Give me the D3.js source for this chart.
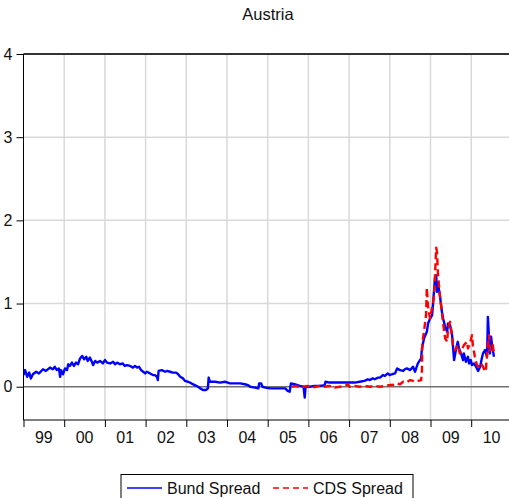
<!DOCTYPE html>
<html>
<head>
<meta charset="utf-8">
<script src="https://cdn.jsdelivr.net/npm/d3@7/dist/d3.min.js"></script>
<style>
html,body{margin:0;padding:0;background:#fff;}
svg{display:block;font-family:"Liberation Sans",Arial,sans-serif;}
</style>
</head>
<body>
<svg id="chart" width="509" height="498"></svg>
<script>
// ---- data (decimal years) ----
const title = "Austria";
const yearLabels = ["99","00","01","02","03","04","05","06","07","08","09","10"];
const yTicks = [0, 1, 2, 3, 4];
const seriesNames = ["Bund Spread", "CDS Spread"];

const bundDates = [1999.00,1999.04,1999.09,1999.14,1999.18,1999.23,1999.31,1999.38,1999.48,1999.55,1999.65,1999.72,1999.77,1999.82,1999.87,1999.90,1999.92,1999.97,
2000.02,2000.07,2000.10,2000.14,2000.19,2000.24,2000.29,2000.34,2000.39,2000.44,2000.49,2000.54,2000.58,2000.63,2000.68,2000.71,2000.76,2000.81,2000.88,2000.95,
2001.00,2001.05,2001.13,2001.20,2001.25,2001.30,2001.37,2001.44,2001.49,2001.54,2001.62,2001.69,2001.74,2001.79,2001.84,2001.89,2001.94,2001.99,
2002.03,2002.11,2002.18,2002.23,2002.28,2002.30,2002.32,2002.40,2002.48,2002.53,2002.60,2002.67,2002.75,2002.80,2002.85,2002.92,2002.97,
2003.04,2003.09,2003.16,2003.21,2003.29,2003.34,2003.41,2003.48,2003.53,2003.55,2003.58,2003.71,2003.83,2003.95,
2004.02,2004.07,2004.20,2004.32,2004.44,2004.52,2004.57,2004.69,2004.77,2004.79,2004.84,2004.87,2004.94,
2005.06,2005.26,2005.43,2005.49,2005.54,2005.57,2005.66,2005.79,2005.88,2005.91,2005.93,
2006.03,2006.15,2006.28,2006.40,2006.42,2006.52,2006.77,
2007.01,2007.14,2007.26,2007.38,2007.46,2007.51,2007.58,2007.63,2007.71,2007.76,2007.83,2007.88,2007.95,
2008.00,2008.05,2008.13,2008.18,2008.25,2008.33,2008.37,2008.42,2008.50,2008.57,
2008.62,2008.69,2008.77,2008.79,2008.84,2008.91,2008.94,2008.99,2009.04,2009.06,2009.11,2009.14,2009.16,2009.18,2009.23,2009.28,2009.31,2009.36,2009.41,2009.43,
2009.48,2009.53,2009.55,2009.58,2009.63,2009.67,2009.70,2009.75,2009.80,2009.82,2009.87,2009.92,2009.95,2009.99,
2010.02,2010.07,2010.12,2010.17,2010.22,2010.26,2010.29,2010.34,2010.39,2010.41,2010.44,2010.46,2010.49,2010.51,2010.56];
const bundValues = [0.14,0.20,0.12,0.17,0.10,0.15,0.18,0.16,0.21,0.19,0.23,0.21,0.24,0.20,0.22,0.12,0.20,0.15,
0.22,0.20,0.27,0.25,0.29,0.25,0.29,0.27,0.34,0.37,0.33,0.36,0.31,0.35,0.30,0.26,0.31,0.29,0.31,0.28,
0.32,0.29,0.28,0.30,0.27,0.29,0.27,0.28,0.25,0.26,0.25,0.23,0.25,0.23,0.24,0.20,0.18,0.16,
0.18,0.16,0.14,0.14,0.12,0.08,0.19,0.20,0.18,0.19,0.18,0.17,0.17,0.15,0.12,0.10,0.07,
0.06,0.05,0.03,0.02,0.00,-0.02,-0.04,-0.04,-0.02,0.11,0.06,0.06,0.05,0.06,
0.05,0.04,0.04,0.04,0.03,0.02,0.00,-0.01,-0.02,0.04,0.04,0.00,-0.01,
-0.02,-0.02,-0.02,-0.05,-0.06,0.04,0.03,0.01,0.00,-0.13,0.00,
0.00,0.01,0.01,0.02,0.06,0.05,0.05,
0.05,0.05,0.06,0.07,0.09,0.08,0.10,0.09,0.11,0.11,0.14,0.13,0.16,
0.14,0.15,0.16,0.22,0.20,0.19,0.21,0.22,0.20,0.24,
0.18,0.28,0.34,0.46,0.58,0.66,0.76,0.82,0.86,0.98,1.31,1.34,1.14,1.25,1.10,0.90,0.82,0.72,0.66,0.76,
0.74,0.62,0.50,0.32,0.46,0.54,0.46,0.40,0.32,0.40,0.30,0.36,0.28,0.32,
0.26,0.28,0.24,0.19,0.24,0.34,0.40,0.44,0.36,0.84,0.58,0.40,0.60,0.50,0.36];

const cdsDates = [2005.60,2005.70,2005.79,2005.88,2005.98,2006.09,2006.18,2006.28,2006.40,2006.52,2006.65,2006.77,2006.90,2006.97,
2007.01,2007.14,2007.26,2007.38,2007.51,2007.63,2007.76,2007.88,
2008.00,2008.07,2008.15,2008.25,2008.33,2008.40,2008.50,2008.57,
2008.62,2008.69,2008.77,2008.79,2008.80,2008.84,2008.89,2008.91,2008.94,2008.99,2009.04,2009.09,2009.14,2009.16,2009.18,2009.23,2009.28,2009.31,2009.36,2009.41,2009.43,
2009.48,2009.53,2009.55,2009.60,2009.67,2009.72,2009.77,2009.82,2009.90,2009.92,2009.97,
2010.02,2010.04,2010.09,2010.14,2010.19,2010.24,2010.29,2010.34,2010.36,2010.41,2010.44,2010.46,2010.51,2010.53,2010.56];
const cdsValues = [0.00,0.01,-0.01,0.00,0.01,-0.01,0.00,0.01,0.00,0.01,-0.01,0.00,0.01,0.03,
0.00,0.01,0.00,0.01,0.00,0.01,0.00,0.01,
0.02,0.02,0.04,0.03,0.06,0.05,0.08,0.07,
0.06,0.07,0.08,0.20,0.54,0.66,0.86,1.19,0.95,0.82,0.95,1.10,1.67,1.62,1.38,1.10,0.90,0.76,0.58,0.54,0.70,
0.78,0.62,0.50,0.44,0.50,0.40,0.44,0.50,0.54,0.46,0.52,
0.62,0.50,0.36,0.26,0.24,0.28,0.24,0.18,0.21,0.50,0.62,0.44,0.46,0.50,0.40];

// ---- layout ----
const svg = d3.select("#chart");
const W = 509, H = 498;
const pL = 23.5, pR = 511.9, pT = 54, pB = 420;

const x = d3.scaleLinear().domain([1999, 2011]).range([pL, pR]);
const y = d3.scaleLinear().domain([-0.4, 4]).range([pB, pT]);

svg.append("defs").append("clipPath").attr("id","clip")
  .append("rect").attr("x",pL).attr("y",pT).attr("width",pR-pL).attr("height",pB-pT);

// grid
const years = d3.range(2000, 2011);
svg.append("g").selectAll("line").data(years).join("line")
  .attr("x1", d=>x(d)).attr("x2", d=>x(d)).attr("y1", pT).attr("y2", pB)
  .attr("stroke","#d9d9d9").attr("stroke-width",1.5);
svg.append("g").selectAll("line").data([1,2,3]).join("line")
  .attr("x1", pL).attr("x2", W).attr("y1", d=>y(d)).attr("y2", d=>y(d))
  .attr("stroke","#d9d9d9").attr("stroke-width",1.5);

// zero line
svg.append("line").attr("x1",pL).attr("x2",W).attr("y1",y(0)).attr("y2",y(0))
  .attr("stroke","#707070").attr("stroke-width",1.6);

// series
const line = d3.line().x(d=>x(d[0])).y(d=>y(d[1]));
const bund = bundDates.map((d,i)=>[d,bundValues[i]]);
const cds = cdsDates.map((d,i)=>[d,cdsValues[i]]);

const g = svg.append("g").attr("clip-path","url(#clip)");
g.append("path").datum(bund).attr("d",line).attr("fill","none")
  .attr("stroke","#0000ff").attr("stroke-width",2.4).attr("stroke-linejoin","round");
g.append("path").datum(cds).attr("d",line).attr("fill","none")
  .attr("stroke","#ff0000").attr("stroke-width",2.4).attr("stroke-dasharray","7,4").attr("stroke-linejoin","round");

// top border
svg.append("line").attr("x1",pL).attr("x2",W).attr("y1",pT).attr("y2",pT)
  .attr("stroke","#333").attr("stroke-width",2.2);

// y axis
const yAxis = d3.axisLeft(y).tickValues(yTicks).tickSize(7).tickPadding(4).tickFormat(d3.format("d"));
const ya = svg.append("g").attr("transform",`translate(${pL},0)`).call(yAxis);
ya.select(".domain").attr("stroke","#000").attr("d",`M0,${pT}V${pB}`);
ya.selectAll("text").attr("font-size",16).attr("fill","#111").attr("font-family","Liberation Sans, Arial, sans-serif");

// x axis
const xAxis = d3.axisBottom(x).tickValues(d3.range(1999, 2012)).tickSize(7).tickFormat("");
const xa = svg.append("g").attr("transform",`translate(0,${pB})`).call(xAxis);
xa.select(".domain").attr("stroke","#000").attr("d",`M${pL},0H${W}`);
svg.append("g").selectAll("text").data(yearLabels).join("text")
  .attr("x",(d,i)=>x(1999.5+i)).attr("y",443).attr("text-anchor","middle")
  .attr("font-size",16).attr("fill","#111").text(d=>d);

// title
svg.append("text").attr("x",268).attr("y",20).attr("text-anchor","middle")
  .attr("font-size",16.5).attr("fill","#111").text(title);

// legend
const lg = svg.append("g");
lg.append("rect").attr("x",121).attr("y",474.5).attr("width",292).attr("height",30)
  .attr("fill","#fff").attr("stroke","#000").attr("stroke-width",1);
lg.append("line").attr("x1",127).attr("x2",162).attr("y1",488).attr("y2",488)
  .attr("stroke","#0000ff").attr("stroke-width",1.5);
lg.append("text").attr("x",167).attr("y",494).attr("font-size",16).attr("fill","#111").text(seriesNames[0]);
lg.append("line").attr("x1",273).attr("x2",308).attr("y1",488).attr("y2",488)
  .attr("stroke","#ff0000").attr("stroke-width",1.5).attr("stroke-dasharray","6,4");
lg.append("text").attr("x",313).attr("y",494).attr("font-size",16).attr("fill","#111").text(seriesNames[1]);
</script>
</body>
</html>
